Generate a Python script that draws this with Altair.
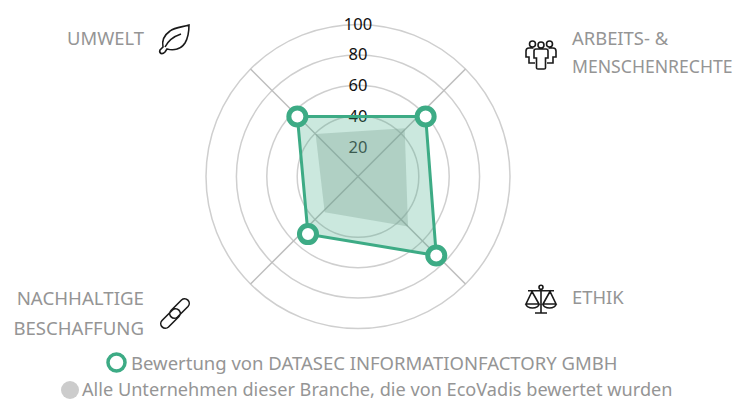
import altair as alt
import pandas as pd

FONT = "Noto Sans"
GREEN = "#3dab85"
LABEL = "#959595"

rings = [40, 60, 80, 100]
tick_values = [20, 40, 60, 80, 100]
tick_offsets = [19.0, 39.2, 59.6, 79.8, 100.0]
spoke_x = [70.7, 70.7, -70.7, -70.7]
spoke_y = [70.7, -70.7, -70.7, 70.7]
company_x = [44.5, 51.5, -32.9, -39.9]
company_y = [39.5, -52.0, -37.9, 39.5]
branch_x = [30.7, 32.9, -21.9, -27.9]
branch_y = [31.8, -32.9, -23.5, 27.9]

label_umwelt = "UMWELT"
labels_rights = ["ARBEITS- &", "MENSCHENRECHTE"]
label_ethik = "ETHIK"
labels_supply = ["NACHHALTIGE", "BESCHAFFUNG"]
legend_company = "Bewertung von DATASEC INFORMATIONFACTORY GMBH"
legend_branch = "Alle Unternehmen dieser Branche, die von EcoVadis bewertet wurden"

def ring(cx, cy, r):
    return f"M{cx+r},{cy}A{r},{r} 0 1 1 {cx-r},{cy}A{r},{r} 0 1 1 {cx+r},{cy}Z"

ICON_LEAF = ("M14,-14C8,-12 0,-12 -5,-8C-12,-3 -13,3 -12,8L-15,11Q-16,13 -14,14.5Q-12,15 -10,13L-8,10"
             "C-1,12 6,10 10,4C13,-1 14,-8 14,-14ZM-10,8C-6,0 0,-3 6,-5")
ICON_PEOPLE = (ring(-8.5, -11, 3) + ring(0, -10, 3) + ring(8.5, -11, 3) +
               "M-5,-6L5,-6Q7,-6 7,-4L7,3L4.5,3L4.5,13Q4.5,14 3,14L-3,14Q-4.5,14 -4.5,13L-4.5,3L-7,3L-7,-4Q-7,-6 -5,-6Z"
               "M-7.5,-7L-12,-7Q-15,-7 -15,-4L-15,2L-12,2L-12,8L-6,8"
               "M7.5,-7L12,-7Q15,-7 15,-4L15,2L12,2L12,8L6,8")
ICON_SCALE = (ring(0, -11.7, 2) +
              "M0,-9.7L0,14M-6,14L6,14M-13,-8.3L13,-8.3"
              "M-9,-7.5L-15,5L-2,5ZM-15,5A6.5,4 0 0 0 -2,5"
              "M9,-7.5L2,5L15,5ZM2,5A6.5,4 0 0 0 15,5")
ICON_LINK = ("M-6.5,13.5L4,3A4.6,4.6 0 0 0 -2.5,-3.5L-13,7A4.6,4.6 0 0 0 -6.5,13.5Z"
             "M13,-7L2.5,3.5A4.6,4.6 0 0 1 -4,-3L6.5,-13.5A4.6,4.6 0 0 1 13,-7Z")

W, H = 728, 392
X = alt.Scale(domain=[-350 / 1.52, (W - 350) / 1.52], nice=False, zero=False)
Y = alt.Scale(domain=[(168.5 - H) / 1.52, 168.5 / 1.52], nice=False, zero=False)
ex = alt.X("x:Q", scale=X, axis=None)
ey = alt.Y("y:Q", scale=Y, axis=None)

rings_df = pd.DataFrame({"r": rings, "x": [0] * len(rings), "y": [0] * len(rings)})
ticks_df = pd.DataFrame({"x": [0] * len(tick_values), "y": tick_offsets, "t": [str(v) for v in tick_values]})
spokes_df = pd.DataFrame({"x": [0] * 4, "y": [0] * 4, "x2": spoke_x, "y2": spoke_y})
company = pd.DataFrame({"x": company_x, "y": company_y, "i": range(4)})
branch = pd.DataFrame({"x": branch_x, "y": branch_y, "i": range(4)})

ring_layer = alt.Chart(rings_df).mark_point(filled=False, stroke="#cfcfcf", strokeWidth=1.5, opacity=1).encode(
    x=ex, y=ey,
    size=alt.Size("r:Q", legend=None, scale=alt.Scale(type="pow", exponent=2, domain=[0, 100], range=[0, 92416])),
)
spoke_layer = alt.Chart(spokes_df).mark_rule(stroke="#bdbdbd", strokeWidth=1.5).encode(
    x=ex, y=ey, x2="x2:Q", y2="y2:Q"
)
tick_layer = alt.Chart(ticks_df).mark_text(font=FONT, fontSize=16.5, color="#111111", baseline="middle", align="center").encode(
    x=ex, y=ey, text="t:N"
)
branch_layer = alt.Chart(branch).mark_line(
    interpolate="linear-closed", fill="#8f9a96", fillOpacity=0.33, strokeWidth=0, stroke="#8f9a96"
).encode(x=alt.X("x:Q", scale=X, axis=None, sort=None), y=ey, order="i:Q")
company_layer = alt.Chart(company).mark_line(
    interpolate="linear-closed", fill=GREEN, fillOpacity=0.27, stroke=GREEN, strokeWidth=3
).encode(x=alt.X("x:Q", scale=X, axis=None, sort=None), y=ey, order="i:Q")
dots_layer = alt.Chart(company).mark_point(
    filled=True, fill="white", stroke=GREEN, strokeWidth=5, size=290, opacity=1
).encode(x=ex, y=ey)

def text(s, px, py, align="left", color=LABEL, size=18.4):
    return alt.Chart(pd.DataFrame({"t": [s]})).mark_text(
        font=FONT, fontSize=size, color=color, align=align, baseline="middle"
    ).encode(x=alt.value(px - 8), y=alt.value(py - 8), text="t:N")

def icon(path, px, py):
    return alt.Chart(pd.DataFrame({"t": [1]})).mark_point(
        shape=path, size=4, filled=False, stroke="#1a1a1a", strokeWidth=1.6, opacity=1
    ).encode(x=alt.value(px - 8), y=alt.value(py - 8))

def swatch(px, py, size, **kw):
    return alt.Chart(pd.DataFrame({"t": [1]})).mark_point(size=size, opacity=1, **kw).encode(
        x=alt.value(px - 8), y=alt.value(py - 8)
    )

chart = alt.layer(
    ring_layer, spoke_layer, tick_layer, branch_layer, company_layer, dots_layer,
    text(label_umwelt, 144, 39, "right"),
    text(labels_rights[0], 572, 39),
    text(labels_rights[1], 572, 68, size=17.6),
    text(label_ethik, 572, 298),
    text(labels_supply[0], 144, 299, "right", size=18.7),
    text(labels_supply[1], 144, 329, "right", size=18.6),
    icon(ICON_LEAF, 175, 39),
    icon(ICON_PEOPLE, 541, 55),
    icon(ICON_SCALE, 541, 299),
    icon(ICON_LINK, 175, 313.5),
    swatch(116.5, 362.5, 290, filled=True, fill="white", stroke=GREEN, strokeWidth=3.5),
    text(legend_company, 131, 364, size=18.5),
    swatch(70, 390, 324, filled=True, fill="#cccccc", strokeWidth=0),
    text(legend_branch, 82, 391, size=18.15),
).properties(
    width=W, height=H, padding=0,
    autosize=alt.AutoSizeParams(type="none"),
).configure_view(stroke=None)

chart.save("out.html", embed_options={"renderer": "svg", "actions": False})
